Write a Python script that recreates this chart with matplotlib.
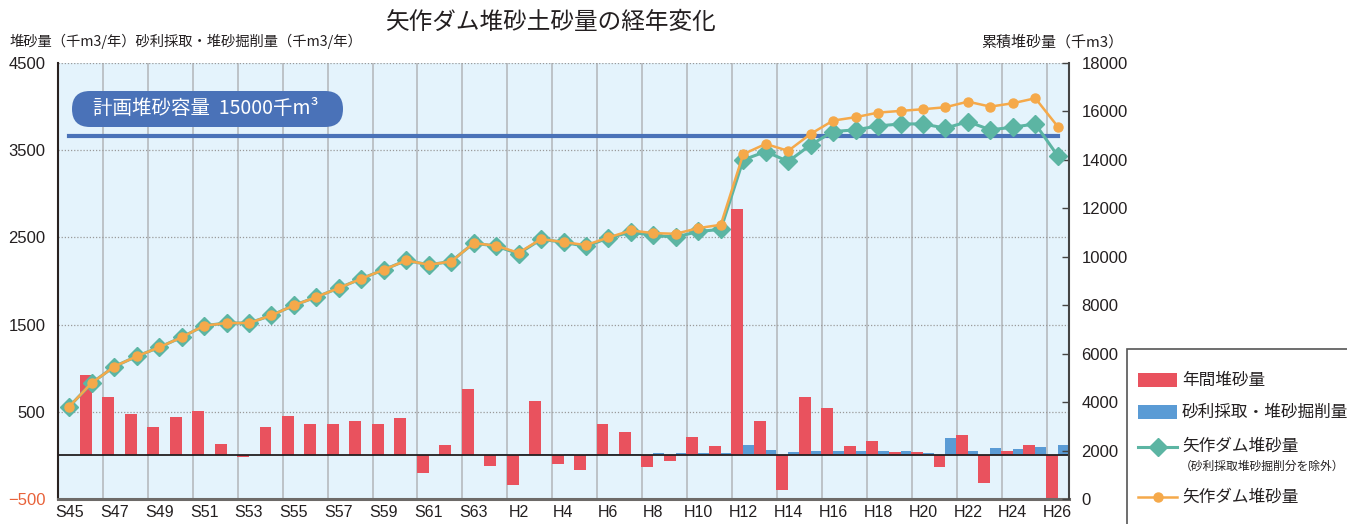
import numpy as np
import matplotlib
matplotlib.use('Agg')
import matplotlib.pyplot as plt
import matplotlib.transforms as mtransforms
from matplotlib.patches import Rectangle, FancyBboxPatch
from matplotlib.lines import Line2D

plt.rcParams['font.family'] = ['Noto Sans CJK JP', 'DejaVu Sans']

# 年度（S45〜H26）
years = ['S45', 'S46', 'S47', 'S48', 'S49', 'S50', 'S51', 'S52', 'S53', 'S54',
         'S55', 'S56', 'S57', 'S58', 'S59', 'S60', 'S61', 'S62', 'S63', 'H1',
         'H2', 'H3', 'H4', 'H5', 'H6', 'H7', 'H8', 'H9', 'H10', 'H11',
         'H12', 'H13', 'H14', 'H15', 'H16', 'H17', 'H18', 'H19', 'H20', 'H21',
         'H22', 'H23', 'H24', 'H25', 'H26']

# 年間堆砂量（千m3/年）
annual = [0, 925, 675, 470, 325, 435, 505, 130, -20, 325,
          450, 355, 355, 400, 355, 425, -200, 125, 765, -120,
          -340, 620, -95, -165, 355, 265, -130, -60, 210, 105,
          2830, 400, -395, 665, 540, 105, 165, 40, 40, -130,
          235, -315, 50, 125, -1170]

# 砂利採取・堆砂掘削量（千m3/年）
gravel = [0, 0, 0, 0, 0, 0, 0, 0, 0, 0,
          0, 0, 0, 0, 0, 0, 0, 0, 0, 15,
          15, 15, 15, 15, 15, 15, 25, 25, 25, 25,
          115, 60, 38, 50, 50, 50, 50, 50, 25, 205,
          50, 85, 70, 95, 125]

# 矢作ダム堆砂量（砂利採取堆砂掘削分を除外）（千m3）
cum_excl = [3815, 4790, 5465, 5890, 6260, 6675, 7155, 7265, 7265, 7580,
            7995, 8340, 8710, 9095, 9465, 9850, 9670, 9805, 10565, 10440,
            10125, 10720, 10600, 10426, 10780, 11018, 10880, 10813, 11045, 11130,
            14000, 14345, 13935, 14620, 15170, 15240, 15400, 15485, 15485, 15310,
            15580, 15240, 15350, 15485, 14165]

# 矢作ダム堆砂量（千m3）
cum_total = [3815, 4790, 5465, 5890, 6260, 6675, 7155, 7265, 7265, 7580,
             7995, 8340, 8710, 9095, 9465, 9850, 9670, 9805, 10565, 10455,
             10166, 10731, 10607, 10483, 10797, 11086, 10977, 10949, 11184, 11320,
             14236, 14660, 14372, 15073, 15623, 15762, 15952, 16022, 16092, 16174,
             16405, 16199, 16339, 16545, 15376]

plan_capacity = 15000  # 計画堆砂容量（千m3）

RED = '#e9525e'
BLUE = '#5a9bd5'
GREEN = '#5cb5a3'
ORANGE = '#f5a94a'
PLAN = '#4a72b8'

W, H = 1347, 524
fig = plt.figure(figsize=(W / 100, H / 100), dpi=100)
ax = fig.add_axes([58 / W, 1 - 499 / H, (1069 - 58) / W, (499 - 63) / H])
ax.set_facecolor('#e4f3fc')
ax2 = ax.twinx()

x = np.arange(len(years))

# 縦グリッド（2年ごと）
for gx in np.arange(1.5, len(years) - 1, 2):
    ax.axvline(gx, color='#b9bec3', lw=1.3, zorder=0.5)
# 横グリッド（点線）
for gy in [500, 1500, 2500, 3500, 4500]:
    ax.axhline(gy, color='#9a9a9a', lw=0.9, ls=(0, (1, 1.5)), zorder=0.6)

ax.bar(x - 0.265, annual, width=0.53, color=RED, zorder=2)
ax.bar(x + 0.235, gravel, width=0.47, color=BLUE, zorder=2)
ax.axhline(0, color='#231f20', lw=1.3, zorder=3)

ax.set_xlim(-0.5, len(years) - 0.5)
ax.set_ylim(-500, 4500)
ax.set_yticks([-500, 500, 1500, 2500, 3500, 4500])
ax.set_xticks(x[::2])
ax.set_xticklabels(years[::2])
ax.tick_params(axis='y', length=0, pad=9, labelsize=12, labelcolor='#231f20')
ax.tick_params(axis='x', length=0, pad=4, labelsize=11.5, labelcolor='#231f20')
for lbl in ax.get_yticklabels() + ax.get_xticklabels():
    lbl.set_fontfamily('Liberation Sans')
ax.get_yticklabels()[0].set_color('#e8623a')

ax.spines['top'].set_visible(False)
ax.spines['right'].set_visible(False)
ax.spines['left'].set_color('#2a2220')
ax.spines['left'].set_linewidth(1.5)
ax.spines['bottom'].set_color('#6d6a68')
ax.spines['bottom'].set_linewidth(2.2)

# 累積堆砂量（右軸）
ax2.plot([x[0], x[-1]], [plan_capacity, plan_capacity], color=PLAN, lw=3, zorder=1)
ax2.plot(x, cum_excl, color=GREEN, lw=2.2, marker='D', ms=9, zorder=2)
ax2.plot(x, cum_total, color=ORANGE, lw=1.8, marker='o', ms=6.5, zorder=3)
ax2.set_ylim(0, 18000)
ax2.set_yticks(np.arange(0, 18001, 2000))
ax2.tick_params(axis='y', direction='in', length=5, width=1, pad=9, labelsize=12,
                labelcolor='#231f20', color='#444')
for lbl in ax2.get_yticklabels():
    lbl.set_fontfamily('Liberation Sans')
for s in ['top', 'left', 'bottom']:
    ax2.spines[s].set_visible(False)
ax2.spines['right'].set_color('#444')
ax2.spines['right'].set_linewidth(1.5)

# 画像座標（左上原点、ピクセル）
px = mtransforms.Affine2D().scale(1, -1).translate(0, H)

# 計画堆砂容量ラベル
fig.patches.append(FancyBboxPatch((72, 91), 271, 36, boxstyle='round,pad=0,rounding_size=18',
                                  fc=PLAN, ec='none', transform=px, figure=fig))
fig.text(93, 109, '計画堆砂容量  15000千m³', transform=px, color='white', fontsize=14,
         va='center', ha='left')

# タイトル・軸ラベル
fig.text(550, 22, '矢作ダム堆砂土砂量の経年変化', transform=px, fontsize=17,
         ha='center', va='center', color='#231f20')
fig.text(10, 41, '堆砂量（千m3/年）砂利採取・堆砂掘削量（千m3/年）', transform=px,
         fontsize=10.3, ha='left', va='center', color='#231f20')
fig.text(1123, 42, '累積堆砂量（千m3）', transform=px, fontsize=10.8,
         ha='right', va='center', color='#231f20')

# 凡例（右下、図の外にはみ出す枠）
fig.patches.append(Rectangle((1127, 349), 300, 200, fc='white', ec='#555', lw=1.2,
                             transform=px, figure=fig))
fig.patches.append(Rectangle((1138, 373), 39, 14, fc=RED, ec='none', transform=px, figure=fig))
fig.patches.append(Rectangle((1138, 405), 39, 14, fc=BLUE, ec='none', transform=px, figure=fig))
fig.lines.append(Line2D([1138, 1157.5, 1177], [447, 447, 447], color=GREEN, lw=2.2,
                        marker='D', ms=9, markevery=[1], transform=px, figure=fig))
fig.lines.append(Line2D([1138, 1157.5, 1177], [497, 497, 497], color=ORANGE, lw=1.8,
                        marker='o', ms=6.5, markevery=[1], transform=px, figure=fig))
fig.text(1182, 380, '年間堆砂量', transform=px, fontsize=12, va='center', color='#231f20')
fig.text(1182, 412, '砂利採取・堆砂掘削量', transform=px, fontsize=12, va='center', color='#231f20')
fig.text(1182, 446, '矢作ダム堆砂量', transform=px, fontsize=12, va='center', color='#231f20')
fig.text(1180, 466, '（砂利採取堆砂掘削分を除外）', transform=px, fontsize=8.5, va='center',
         color='#231f20')
fig.text(1182, 497, '矢作ダム堆砂量', transform=px, fontsize=12, va='center', color='#231f20')

fig.savefig('out.png', dpi=100)
